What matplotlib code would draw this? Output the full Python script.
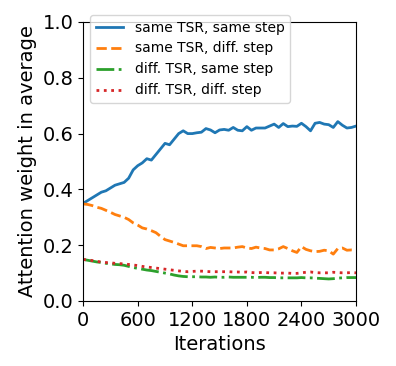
import matplotlib
matplotlib.use("Agg")
import matplotlib.pyplot as plt
import numpy as np

iterations = list(range(0, 3001, 50))

same_tsr_same_step = [
    0.350, 0.360, 0.370, 0.380, 0.390, 0.395, 0.405, 0.415, 0.420, 0.425,
    0.440, 0.470, 0.485, 0.495, 0.510, 0.505, 0.525, 0.545, 0.565, 0.560,
    0.580, 0.600, 0.610, 0.600, 0.600, 0.603, 0.605, 0.618, 0.613, 0.603,
    0.613, 0.615, 0.612, 0.622, 0.612, 0.610, 0.625, 0.612, 0.620, 0.620,
    0.620, 0.627, 0.634, 0.622, 0.636, 0.625, 0.627, 0.626, 0.637, 0.625,
    0.610, 0.637, 0.640, 0.634, 0.632, 0.622, 0.643, 0.630, 0.620, 0.622,
    0.627,
]

same_tsr_diff_step = [
    0.348, 0.346, 0.342, 0.336, 0.332, 0.325, 0.318, 0.310, 0.305, 0.300,
    0.292, 0.280, 0.272, 0.262, 0.258, 0.252, 0.245, 0.232, 0.220, 0.215,
    0.210, 0.204, 0.198, 0.198, 0.198, 0.198, 0.195, 0.188, 0.192, 0.190,
    0.188, 0.190, 0.190, 0.190, 0.193, 0.195, 0.190, 0.188, 0.193, 0.190,
    0.188, 0.183, 0.183, 0.187, 0.195, 0.188, 0.180, 0.174, 0.195, 0.185,
    0.180, 0.177, 0.178, 0.182, 0.180, 0.168, 0.188, 0.190, 0.182, 0.183,
    0.182,
]

diff_tsr_same_step = [
    0.149, 0.146, 0.143, 0.140, 0.138, 0.135, 0.133, 0.131, 0.130, 0.128,
    0.124, 0.120, 0.117, 0.114, 0.111, 0.109, 0.106, 0.103, 0.100, 0.097,
    0.093, 0.090, 0.088, 0.087, 0.087, 0.087, 0.086, 0.086, 0.085, 0.086,
    0.085, 0.085, 0.086, 0.085, 0.085, 0.085, 0.085, 0.085, 0.084, 0.085,
    0.085, 0.084, 0.084, 0.083, 0.083, 0.083, 0.083, 0.083, 0.084, 0.083,
    0.083, 0.082, 0.081, 0.080, 0.079, 0.080, 0.082, 0.083, 0.084, 0.084,
    0.084,
]

diff_tsr_diff_step = [
    0.149, 0.147, 0.145, 0.142, 0.140, 0.138, 0.137, 0.135, 0.134, 0.133,
    0.131, 0.129, 0.127, 0.124, 0.122, 0.120, 0.118, 0.116, 0.114, 0.112,
    0.110, 0.108, 0.106, 0.105, 0.106, 0.107, 0.107, 0.106, 0.105, 0.105,
    0.105, 0.105, 0.105, 0.104, 0.104, 0.103, 0.104, 0.102, 0.101, 0.102,
    0.102, 0.101, 0.101, 0.100, 0.100, 0.100, 0.099, 0.099, 0.101, 0.103,
    0.104, 0.102, 0.101, 0.101, 0.101, 0.103, 0.102, 0.101, 0.101, 0.102,
    0.101,
]

labels = ["same TSR, same step", "same TSR, diff. step",
          "diff. TSR, same step", "diff. TSR, diff. step"]
xticks = [0, 600, 1200, 1800, 2400, 3000]
yticks = [0.0, 0.2, 0.4, 0.6, 0.8, 1.0]

fig = plt.figure(figsize=(3.96, 3.66), dpi=100)
ax = fig.add_axes([0.21, 0.1776, 0.689, 0.7623])

ax.plot(iterations, same_tsr_same_step, color="#1f77b4", linestyle="-", lw=2, label=labels[0])
ax.plot(iterations, same_tsr_diff_step, color="#ff7f0e", linestyle="--", lw=2, label=labels[1])
ax.plot(iterations, diff_tsr_same_step, color="#2ca02c", linestyle="-.", lw=2, label=labels[2])
ax.plot(iterations, diff_tsr_diff_step, color="#d62728", linestyle=":", lw=2, label=labels[3])

ax.set_xlim(0, 3000)
ax.set_ylim(0.0, 1.0)
ax.set_xticks(xticks)
ax.set_yticks(yticks)
ax.set_yticklabels([f"{v:.1f}" for v in yticks])
ax.tick_params(labelsize=14)
ax.set_xlabel("Iterations", fontsize=14)
ax.set_ylabel("Attention weight in average", fontsize=14)
ax.legend(loc="upper left", bbox_to_anchor=(0.0, 1.05), fontsize=10)

fig.savefig("out.png", dpi=100)
